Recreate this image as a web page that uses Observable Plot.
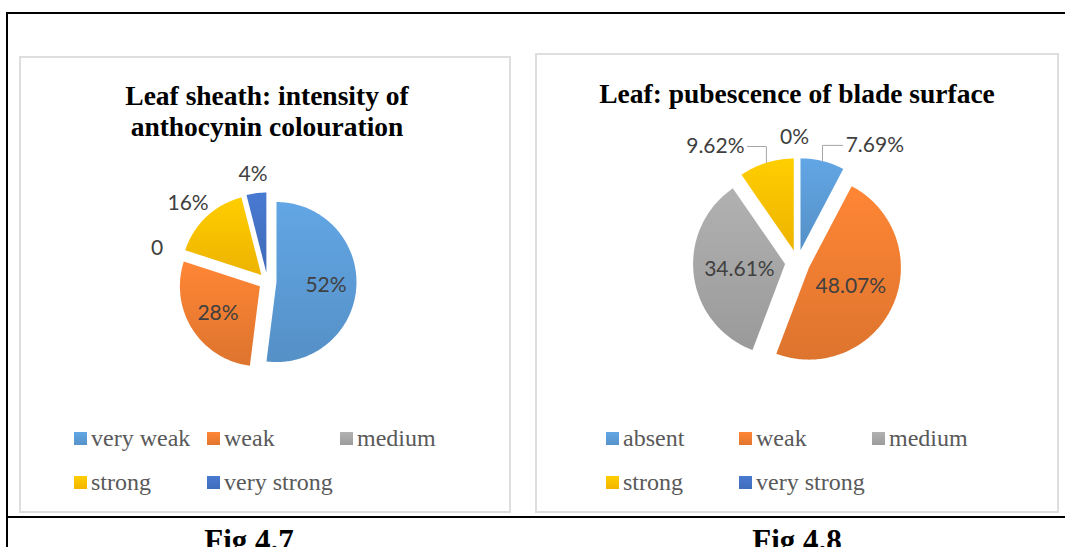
<!DOCTYPE html>
<html><head><meta charset="utf-8">
<script src="https://cdn.jsdelivr.net/npm/d3@7"></script>
<script src="https://cdn.jsdelivr.net/npm/@observablehq/plot@0.6"></script>
<style>
body{margin:0;background:#fff;}
#root{position:relative;width:1065px;height:547px;overflow:hidden;background:#fff;}
.panel{position:absolute;box-sizing:border-box;border:2px solid #dedede;}
.plotsvg{position:absolute;}
.title{position:absolute;text-align:center;font:bold 27.5px "Liberation Serif";line-height:1;color:#000;white-space:nowrap;transform:translateX(-50%);}
.item{position:absolute;white-space:nowrap;font:24px "Liberation Serif";color:#595959;line-height:1;}
.sw{position:absolute;width:13px;height:13px;}
.fig{position:absolute;font:bold 31px "Liberation Serif";line-height:1;color:#000;white-space:nowrap;transform:translateX(-50%);}
.bl{position:absolute;background:#000;}
</style></head>
<body><div id="root"></div>
<script>
// ---- data ----
const leftCategories = ["very weak", "weak", "medium", "strong", "very strong"];
const leftValues = [52, 28, 0, 16, 4];
const leftLabels = ["52%", "28%", "0", "16%", "4%"];
const leftTitle = ["Leaf sheath: intensity of", "anthocynin colouration"];

const rightCategories = ["absent", "weak", "medium", "strong", "very strong"];
const rightValues = [7.69, 48.07, 34.61, 9.62, 0];
const rightLabels = ["7.69%", "48.07%", "34.61%", "9.62%", "0%"];
const rightTitle = ["Leaf: pubescence of blade surface"];

const seriesColors = ["#5B9BD5", "#ED7D31", "#A5A5A5", "#FFC000", "#4472C4"];
const captions = ["Fig 4.7", "Fig 4.8"];

// ---- layout ----
const layouts = [
  {id: "L", x: 19, y: 56, w: 492, h: 457, cx: 267, cy: 281, r: 80, explode: 9, inK: 0.62,
   ringX: 1.45, ringY: 1.35, flat: 0, sep: 28, leaders: false, titleCx: 267, titleTop: [82, 113], legendX: 74, capCx: 249},
  {id: "R", x: 535, y: 53, w: 524, h: 460, cx: 797, cy: 262, r: 92, explode: 12.5, inK: 0.5,
   ringX: 1.55, ringY: 1.36, flat: 0.6, sep: 34, leaders: true, titleCx: 797, titleTop: [80], legendX: 606, capCx: 797}
];

const root = document.getElementById("root");
function el(cls, css, text) {
  const d = document.createElement("div");
  d.className = cls;
  Object.assign(d.style, css);
  if (text != null) d.textContent = text;
  root.appendChild(d);
  return d;
}

// frame lines
el("bl", {left: "6px", top: "12px", width: "1059px", height: "2px"});
el("bl", {left: "6px", top: "12px", width: "2px", height: "535px"});
el("bl", {left: "6px", top: "516px", width: "1059px", height: "2px"});

const ctx = document.createElement("canvas").getContext("2d");
ctx.font = "21px Lato";

function drawPanel(cfg, cats, vals, labels, title, caption) {
  el("panel", {left: cfg.x + "px", top: cfg.y + "px", width: cfg.w + "px", height: cfg.h + "px"});
  const W = cfg.w, H = cfg.h, r = cfg.r;
  const cx = cfg.cx - cfg.x, cy = cfg.cy - cfg.y;
  const total = d3.sum(vals);
  const arcs = d3.pie().sort(null).value(d => d)(vals);
  const ex = cfg.explode / r;
  const marks = [];
  const insideLabels = [], outside = [];
  arcs.forEach((a, i) => {
    const mid = (a.startAngle + a.endAngle) / 2;
    if (a.value > 0) {
      const ox = ex * Math.sin(mid), oy = -ex * Math.cos(mid);
      const pts = [{x: ox, y: oy}];
      const n = Math.max(2, Math.ceil((a.endAngle - a.startAngle) / (Math.PI / 180)));
      for (let k = 0; k <= n; k++) {
        const t = a.startAngle + (a.endAngle - a.startAngle) * k / n;
        pts.push({x: ox + Math.sin(t), y: oy - Math.cos(t)});
      }
      pts.push({x: ox, y: oy});
      marks.push(Plot.line(pts, {x: "x", y: "y", fill: `url(#g${cfg.id}${i})`, stroke: "none",
        style: {filter: `url(#sh${cfg.id})`}}));
    }
    if (a.value / total >= 0.2) {
      const d = ex + cfg.inK;
      insideLabels.push({x: d * Math.sin(mid), y: -d * Math.cos(mid), text: labels[i]});
    } else {
      let m = mid > Math.PI ? mid - 2 * Math.PI : mid;
      outside.push({i, mid, ang: m, text: labels[i], value: a.value});
    }
  });
  // spread outside labels apart
  outside.sort((p, q) => p.ang - q.ang);
  const sep = cfg.sep * Math.PI / 180;
  for (let it = 0; it < 200; it++) {
    for (let k = 1; k < outside.length; k++) {
      const gap = outside[k].ang - outside[k - 1].ang;
      if (gap < sep) {
        const d = (sep - gap) / 2;
        outside[k - 1].ang -= d; outside[k].ang += d;
      }
    }
  }
  const outLabels = [], leaders = [];
  outside.forEach(o => {
    const c = Math.cos(o.ang);
    const lx = cfg.ringX * Math.sin(o.ang), ly = -cfg.ringY * (c + cfg.flat * (1 - c));
    outLabels.push({x: lx, y: ly, text: o.text});
    if (cfg.leaders && o.value > 0) {
      const e = ex + 1;
      const px = e * Math.sin(o.mid), py = -e * Math.cos(o.mid);
      const wpx = ctx.measureText(o.text).width / r;
      const endX = lx < px ? lx + wpx / 2 + 3 / r : lx - wpx / 2 - 3 / r;
      leaders.push({k: o.i, x: px, y: py}, {k: o.i, x: px, y: ly}, {k: o.i, x: endX, y: ly});
    }
  });
  marks.push(Plot.line(leaders, {x: "x", y: "y", z: "k", stroke: "#a6a6a6", strokeWidth: 1}));
  const textOpts = {x: "x", y: "y", text: "text", fontSize: 21, fontFamily: "Lato", fill: "#404040",
    textAnchor: "middle", lineAnchor: "middle"};
  marks.push(Plot.text(insideLabels, textOpts));
  marks.push(Plot.text(outLabels, textOpts));

  const svg = Plot.plot({
    width: W, height: H, margin: 0,
    x: {domain: [-cx / r, (W - cx) / r], range: [0, W], axis: null},
    y: {domain: [-cy / r, (H - cy) / r], range: [0, H], axis: null},
    style: {background: "transparent", overflow: "visible"},
    marks
  });
  const defs = d3.select(svg).insert("defs", ":first-child");
  seriesColors.forEach((c, i) => {
    const g = defs.append("linearGradient").attr("id", `g${cfg.id}${i}`)
      .attr("x1", 0).attr("y1", 0).attr("x2", 0).attr("y2", 1);
    g.append("stop").attr("offset", 0).attr("stop-color", d3.color(c).brighter(0.2).formatHex());
    g.append("stop").attr("offset", 1).attr("stop-color", d3.color(c).darker(0.2).formatHex());
  });
  defs.append("filter").attr("id", `sh${cfg.id}`).attr("x", "-20%").attr("y", "-20%")
    .attr("width", "140%").attr("height", "140%")
    .append("feDropShadow").attr("dx", 0).attr("dy", 0).attr("stdDeviation", 2.2)
    .attr("flood-color", "#000").attr("flood-opacity", 0.22);
  svg.classList.add("plotsvg");
  svg.style.left = cfg.x + "px";
  svg.style.top = cfg.y + "px";
  root.appendChild(svg);

  title.forEach((t, k) => el("title", {left: cfg.titleCx + "px", top: cfg.titleTop[k] + "px"}, t));

  cats.forEach((c, i) => {
    const row = i < 3 ? 0 : 1, col = i < 3 ? i : i - 3;
    const sx = cfg.legendX + col * 133;
    const col1 = d3.color(seriesColors[i]).brighter(0.2).formatHex();
    const col2 = d3.color(seriesColors[i]).darker(0.15).formatHex();
    el("sw", {left: sx + "px", top: (432 + row * 44) + "px", background: `linear-gradient(${col1}, ${col2})`});
    el("item", {left: (sx + 17) + "px", top: (426 + row * 44) + "px"}, c);
  });
  el("fig", {left: cfg.capCx + "px", top: "525px"}, caption);
}

drawPanel(layouts[0], leftCategories, leftValues, leftLabels, leftTitle, captions[0]);
drawPanel(layouts[1], rightCategories, rightValues, rightLabels, rightTitle, captions[1]);
</script>
</body></html>
